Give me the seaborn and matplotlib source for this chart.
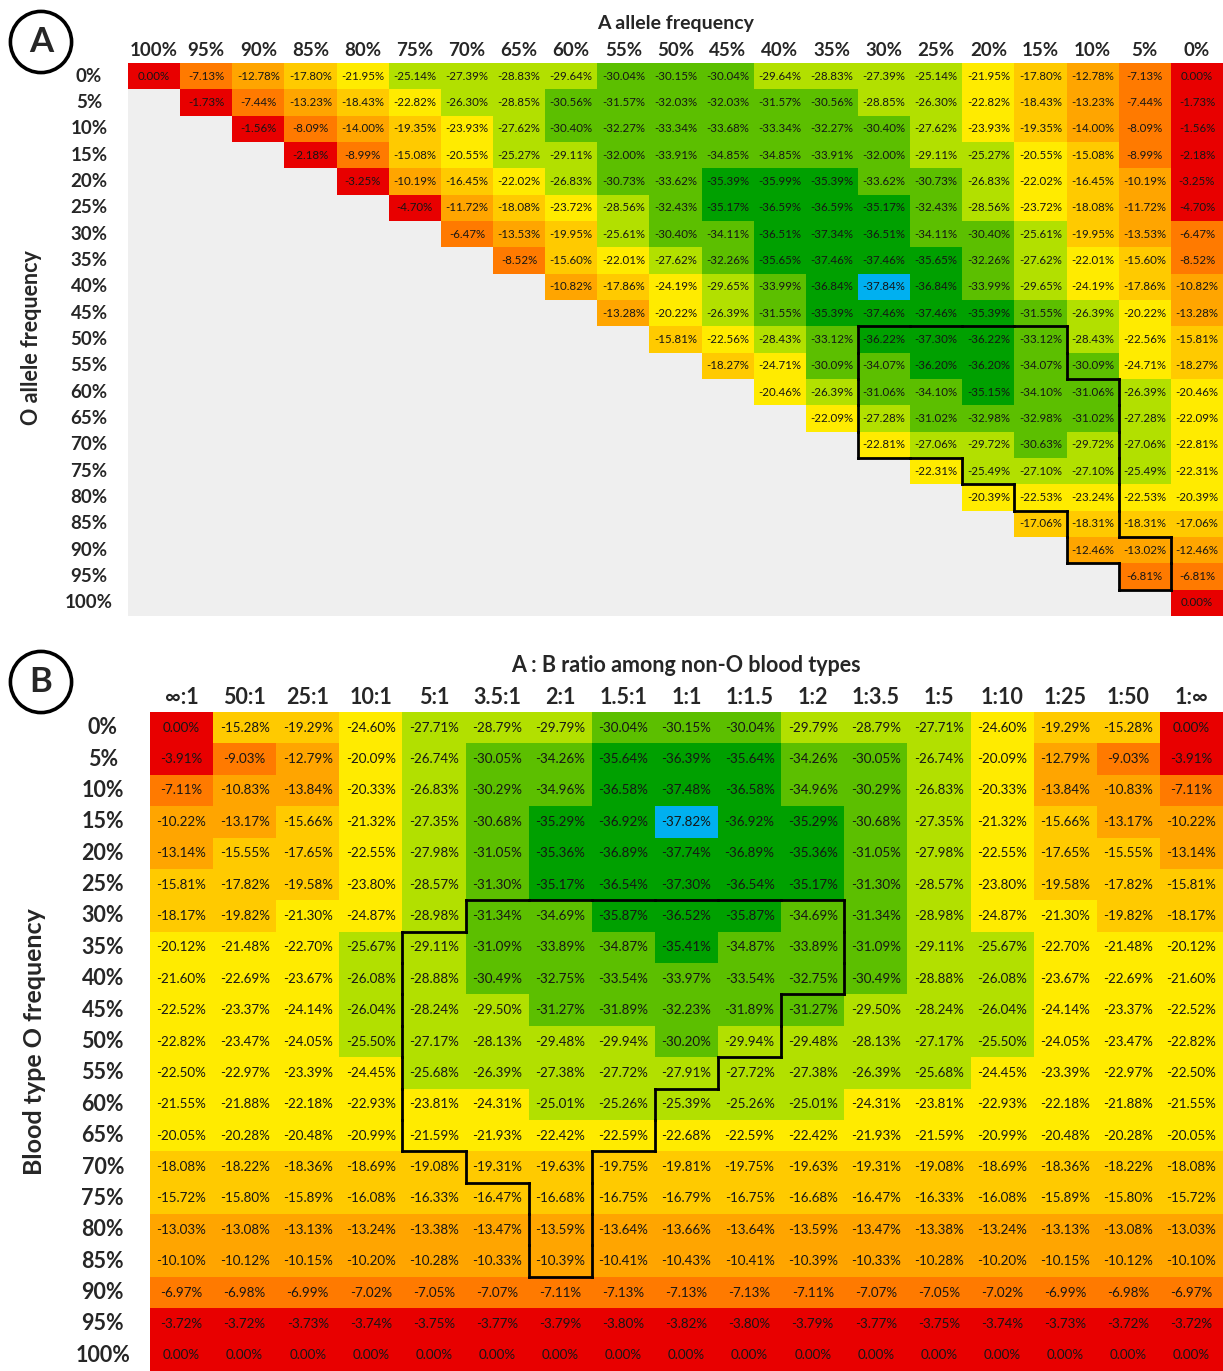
import numpy as np
import matplotlib
matplotlib.use("Agg")
import matplotlib.pyplot as plt
from matplotlib.colors import ListedColormap, BoundaryNorm
import seaborn as sns

# ---- panel A: A allele (columns) x O allele (rows), values in %
a_freq_labels = ["100%", "95%", "90%", "85%", "80%", "75%", "70%", "65%", "60%", "55%", "50%",
                 "45%", "40%", "35%", "30%", "25%", "20%", "15%", "10%", "5%", "0%"]
o_freq_labels = ["0%", "5%", "10%", "15%", "20%", "25%", "30%", "35%", "40%", "45%", "50%",
                 "55%", "60%", "65%", "70%", "75%", "80%", "85%", "90%", "95%", "100%"]

# row i starts at column i (A + O <= 100%)
a_rows = [
    [0.00, -7.13, -12.78, -17.80, -21.95, -25.14, -27.39, -28.83, -29.64, -30.04, -30.15, -30.04, -29.64, -28.83, -27.39, -25.14, -21.95, -17.80, -12.78, -7.13, 0.00],
    [-1.73, -7.44, -13.23, -18.43, -22.82, -26.30, -28.85, -30.56, -31.57, -32.03, -32.03, -31.57, -30.56, -28.85, -26.30, -22.82, -18.43, -13.23, -7.44, -1.73],
    [-1.56, -8.09, -14.00, -19.35, -23.93, -27.62, -30.40, -32.27, -33.34, -33.68, -33.34, -32.27, -30.40, -27.62, -23.93, -19.35, -14.00, -8.09, -1.56],
    [-2.18, -8.99, -15.08, -20.55, -25.27, -29.11, -32.00, -33.91, -34.85, -34.85, -33.91, -32.00, -29.11, -25.27, -20.55, -15.08, -8.99, -2.18],
    [-3.25, -10.19, -16.45, -22.02, -26.83, -30.73, -33.62, -35.39, -35.99, -35.39, -33.62, -30.73, -26.83, -22.02, -16.45, -10.19, -3.25],
    [-4.70, -11.72, -18.08, -23.72, -28.56, -32.43, -35.17, -36.59, -36.59, -35.17, -32.43, -28.56, -23.72, -18.08, -11.72, -4.70],
    [-6.47, -13.53, -19.95, -25.61, -30.40, -34.11, -36.51, -37.34, -36.51, -34.11, -30.40, -25.61, -19.95, -13.53, -6.47],
    [-8.52, -15.60, -22.01, -27.62, -32.26, -35.65, -37.46, -37.46, -35.65, -32.26, -27.62, -22.01, -15.60, -8.52],
    [-10.82, -17.86, -24.19, -29.65, -33.99, -36.84, -37.84, -36.84, -33.99, -29.65, -24.19, -17.86, -10.82],
    [-13.28, -20.22, -26.39, -31.55, -35.39, -37.46, -37.46, -35.39, -31.55, -26.39, -20.22, -13.28],
    [-15.81, -22.56, -28.43, -33.12, -36.22, -37.30, -36.22, -33.12, -28.43, -22.56, -15.81],
    [-18.27, -24.71, -30.09, -34.07, -36.20, -36.20, -34.07, -30.09, -24.71, -18.27],
    [-20.46, -26.39, -31.06, -34.10, -35.15, -34.10, -31.06, -26.39, -20.46],
    [-22.09, -27.28, -31.02, -32.98, -32.98, -31.02, -27.28, -22.09],
    [-22.81, -27.06, -29.72, -30.63, -29.72, -27.06, -22.81],
    [-22.31, -25.49, -27.10, -27.10, -25.49, -22.31],
    [-20.39, -22.53, -23.24, -22.53, -20.39],
    [-17.06, -18.31, -18.31, -17.06],
    [-12.46, -13.02, -12.46],
    [-6.81, -6.81],
    [0.00],
]

# outlined region: (row, first col, last col)
a_region = [(10, 14, 17), (11, 14, 17), (12, 14, 18), (13, 14, 18), (14, 14, 18),
            (15, 16, 18), (16, 17, 18), (17, 18, 18), (18, 18, 19), (19, 19, 19)]

# ---- panel B: A:B ratio (columns) x blood type O frequency (rows)
ratio_labels = ["\u221e:1", "50:1", "25:1", "10:1", "5:1", "3.5:1", "2:1", "1.5:1", "1:1",
                "1:1.5", "1:2", "1:3.5", "1:5", "1:10", "1:25", "1:50", "1:\u221e"]
o_type_labels = o_freq_labels

b_rows = [
    [0.00, -15.28, -19.29, -24.60, -27.71, -28.79, -29.79, -30.04, -30.15, -30.04, -29.79, -28.79, -27.71, -24.60, -19.29, -15.28, 0.00],
    [-3.91, -9.03, -12.79, -20.09, -26.74, -30.05, -34.26, -35.64, -36.39, -35.64, -34.26, -30.05, -26.74, -20.09, -12.79, -9.03, -3.91],
    [-7.11, -10.83, -13.84, -20.33, -26.83, -30.29, -34.96, -36.58, -37.48, -36.58, -34.96, -30.29, -26.83, -20.33, -13.84, -10.83, -7.11],
    [-10.22, -13.17, -15.66, -21.32, -27.35, -30.68, -35.29, -36.92, -37.82, -36.92, -35.29, -30.68, -27.35, -21.32, -15.66, -13.17, -10.22],
    [-13.14, -15.55, -17.65, -22.55, -27.98, -31.05, -35.36, -36.89, -37.74, -36.89, -35.36, -31.05, -27.98, -22.55, -17.65, -15.55, -13.14],
    [-15.81, -17.82, -19.58, -23.80, -28.57, -31.30, -35.17, -36.54, -37.30, -36.54, -35.17, -31.30, -28.57, -23.80, -19.58, -17.82, -15.81],
    [-18.17, -19.82, -21.30, -24.87, -28.98, -31.34, -34.69, -35.87, -36.52, -35.87, -34.69, -31.34, -28.98, -24.87, -21.30, -19.82, -18.17],
    [-20.12, -21.48, -22.70, -25.67, -29.11, -31.09, -33.89, -34.87, -35.41, -34.87, -33.89, -31.09, -29.11, -25.67, -22.70, -21.48, -20.12],
    [-21.60, -22.69, -23.67, -26.08, -28.88, -30.49, -32.75, -33.54, -33.97, -33.54, -32.75, -30.49, -28.88, -26.08, -23.67, -22.69, -21.60],
    [-22.52, -23.37, -24.14, -26.04, -28.24, -29.50, -31.27, -31.89, -32.23, -31.89, -31.27, -29.50, -28.24, -26.04, -24.14, -23.37, -22.52],
    [-22.82, -23.47, -24.05, -25.50, -27.17, -28.13, -29.48, -29.94, -30.20, -29.94, -29.48, -28.13, -27.17, -25.50, -24.05, -23.47, -22.82],
    [-22.50, -22.97, -23.39, -24.45, -25.68, -26.39, -27.38, -27.72, -27.91, -27.72, -27.38, -26.39, -25.68, -24.45, -23.39, -22.97, -22.50],
    [-21.55, -21.88, -22.18, -22.93, -23.81, -24.31, -25.01, -25.26, -25.39, -25.26, -25.01, -24.31, -23.81, -22.93, -22.18, -21.88, -21.55],
    [-20.05, -20.28, -20.48, -20.99, -21.59, -21.93, -22.42, -22.59, -22.68, -22.59, -22.42, -21.93, -21.59, -20.99, -20.48, -20.28, -20.05],
    [-18.08, -18.22, -18.36, -18.69, -19.08, -19.31, -19.63, -19.75, -19.81, -19.75, -19.63, -19.31, -19.08, -18.69, -18.36, -18.22, -18.08],
    [-15.72, -15.80, -15.89, -16.08, -16.33, -16.47, -16.68, -16.75, -16.79, -16.75, -16.68, -16.47, -16.33, -16.08, -15.89, -15.80, -15.72],
    [-13.03, -13.08, -13.13, -13.24, -13.38, -13.47, -13.59, -13.64, -13.66, -13.64, -13.59, -13.47, -13.38, -13.24, -13.13, -13.08, -13.03],
    [-10.10, -10.12, -10.15, -10.20, -10.28, -10.33, -10.39, -10.41, -10.43, -10.41, -10.39, -10.33, -10.28, -10.20, -10.15, -10.12, -10.10],
    [-6.97, -6.98, -6.99, -7.02, -7.05, -7.07, -7.11, -7.13, -7.13, -7.13, -7.11, -7.07, -7.05, -7.02, -6.99, -6.98, -6.97],
    [-3.72, -3.72, -3.73, -3.74, -3.75, -3.77, -3.79, -3.80, -3.82, -3.80, -3.79, -3.77, -3.75, -3.74, -3.73, -3.72, -3.72],
    [0.00, 0.00, 0.00, 0.00, 0.00, 0.00, 0.00, 0.00, 0.00, 0.00, 0.00, 0.00, 0.00, 0.00, 0.00, 0.00, 0.00],
]

b_region = [(6, 5, 10), (7, 4, 10), (8, 4, 10), (9, 4, 9), (10, 4, 9), (11, 4, 8),
            (12, 4, 7), (13, 4, 7), (14, 5, 6), (15, 6, 6), (16, 6, 6), (17, 6, 6)]

# colour bins, 5% steps
bin_edges = [-40, -35, -30, -25, -20, -15, -10, -5, 0.5]
bin_colors = ["#00A000", "#5CBF00", "#B2E000", "#FFEB00", "#FFCA00", "#FFA500", "#FF7A00", "#E80000"]
min_color = "#00B0F0"

sns.set_style("white")
plt.rcParams["font.family"] = ["Lato", "DejaVu Sans"]

cmap = ListedColormap(bin_colors)
norm = BoundaryNorm(bin_edges, cmap.N)


def draw_outline(ax, region):
    inside = set()
    for r, c0, c1 in region:
        for c in range(c0, c1 + 1):
            inside.add((r, c))
    kw = dict(color="black", lw=2, solid_capstyle="projecting", zorder=5)
    for r, c in inside:
        if (r - 1, c) not in inside:
            ax.plot([c, c + 1], [r, r], **kw)
        if (r + 1, c) not in inside:
            ax.plot([c, c + 1], [r + 1, r + 1], **kw)
        if (r, c - 1) not in inside:
            ax.plot([c, c], [r, r + 1], **kw)
        if (r, c + 1) not in inside:
            ax.plot([c + 1, c + 1], [r, r + 1], **kw)


def draw_panel(ax, values, xlabels, ylabels, cell_fs, tick_fs, ypad):
    labels = np.array([["" if np.isnan(v) else f"{v:.2f}%" for v in row] for row in values])
    sns.heatmap(values, ax=ax, cmap=cmap, norm=norm, cbar=False,
                annot=labels, fmt="", annot_kws={"size": cell_fs, "color": "#161616"},
                xticklabels=xlabels, yticklabels=ylabels)
    # highlight the minimum cell
    is_min = values == np.nanmin(values)
    sns.heatmap(values, ax=ax, mask=~is_min, cmap=ListedColormap([min_color]), cbar=False,
                xticklabels=xlabels, yticklabels=ylabels)
    ax.xaxis.tick_top()
    ax.tick_params(axis="x", length=0, pad=3)
    ax.tick_params(axis="y", length=0, pad=ypad)
    for t in ax.get_xticklabels():
        t.set_rotation(0)
        t.set_fontsize(tick_fs)
        t.set_fontweight("bold")
    for t in ax.get_yticklabels():
        t.set_rotation(0)
        t.set_fontsize(tick_fs)
        t.set_fontweight("bold")
        t.set_ha("center")


W, H = 1223, 1371
fig = plt.figure(figsize=(W / 100, H / 100), dpi=100)

# panel A
a_vals = np.full((len(o_freq_labels), len(a_freq_labels)), np.nan)
for i, row in enumerate(a_rows):
    a_vals[i, i:i + len(row)] = row

ax_a = fig.add_axes([128 / W, 1 - 616 / H, (W - 128) / W, (616 - 63) / H])
ax_a.set_facecolor("#EFEFEF")
draw_panel(ax_a, a_vals, a_freq_labels, o_freq_labels, 8.3, 13.5, 28)
draw_outline(ax_a, a_region)

fig.text(676 / W, 1 - 24 / H, "A allele frequency", ha="center", va="center",
         fontsize=14, fontweight="bold")
fig.text(32 / W, 1 - 338 / H, "O allele frequency", ha="center", va="center",
         rotation=90, fontsize=15.5, fontweight="bold")

# panel B
b_vals = np.array(b_rows)
ax_b = fig.add_axes([150 / W, 0, (W - 150) / W, (H - 712) / H])
draw_panel(ax_b, b_vals, ratio_labels, o_type_labels, 9.6, 15.5, 34)
draw_outline(ax_b, b_region)

fig.text(686 / W, 1 - 666 / H, "A : B ratio among non-O blood types", ha="center", va="center",
         fontsize=15.5, fontweight="bold")
fig.text(35 / W, 1 - 1042 / H, "Blood type O frequency", ha="center", va="center",
         rotation=90, fontsize=18, fontweight="bold")

# circled panel letters
circ = dict(boxstyle="circle,pad=0.42", fc="white", ec="black", lw=2.6)
fig.text(41 / W, 1 - 42 / H, "A", ha="center", va="center", fontsize=25, fontweight="bold", bbox=circ)
fig.text(41 / W, 1 - 682 / H, "B", ha="center", va="center", fontsize=25, fontweight="bold", bbox=circ)

fig.savefig("out.png", dpi=100, facecolor="white")
